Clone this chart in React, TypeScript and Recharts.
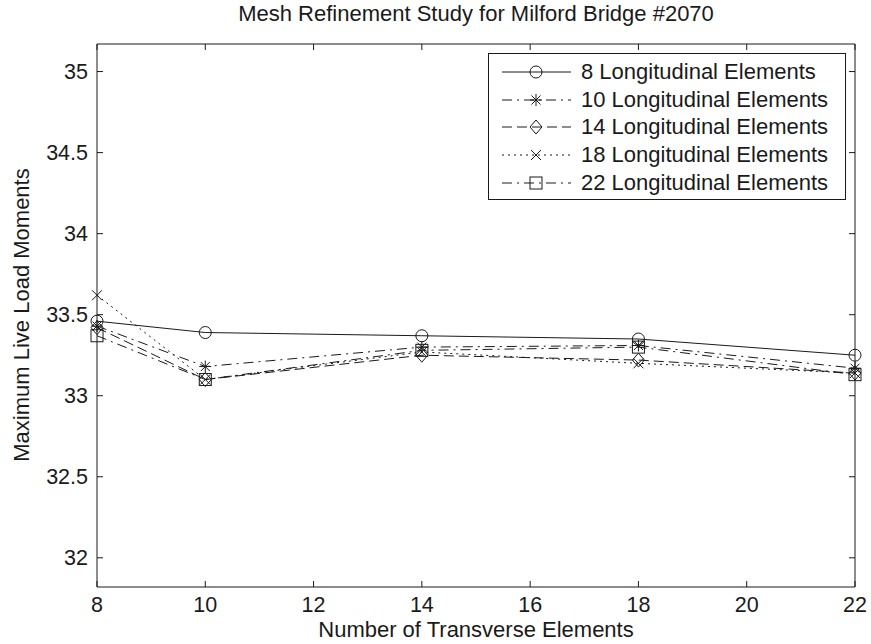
import { LineChart, Line, XAxis, YAxis } from 'recharts'

const transverse = [8, 10, 14, 18, 22]
const long8 = [33.46, 33.39, 33.37, 33.35, 33.25]
const long10 = [33.43, 33.18, 33.3, 33.31, 33.17]
const long14 = [33.42, 33.1, 33.25, 33.22, 33.14]
const long18 = [33.62, 33.1, 33.27, 33.2, 33.14]
const long22 = [33.37, 33.1, 33.28, 33.3, 33.13]

const xTicks = [8, 10, 12, 14, 16, 18, 20, 22]
const yTicks = [32, 32.5, 33, 33.5, 34, 34.5, 35]

const INK = '#1a1a1a'
const FONT = '"Liberation Sans", Arial, sans-serif'

const series = [
  { key: 'l8', name: '8 Longitudinal Elements', dash: undefined, shape: 'circle' },
  { key: 'l10', name: '10 Longitudinal Elements', dash: '10 5 2 5', shape: 'star' },
  { key: 'l14', name: '14 Longitudinal Elements', dash: '10 5', shape: 'diamond' },
  { key: 'l18', name: '18 Longitudinal Elements', dash: '2 4', shape: 'cross' },
  { key: 'l22', name: '22 Longitudinal Elements', dash: '10 5 2 5', shape: 'square' },
]

const data = transverse.map((t, i) => ({
  t,
  l8: long8[i],
  l10: long10[i],
  l14: long14[i],
  l18: long18[i],
  l22: long22[i],
}))

function Marker({ shape, cx, cy }: { shape: string; cx: number; cy: number }) {
  const s = { fill: 'none', stroke: INK, strokeWidth: 1 }
  if (shape === 'circle') return <circle cx={cx} cy={cy} r={6} {...s} />
  if (shape === 'square') return <rect x={cx - 6} y={cy - 6} width={12} height={12} {...s} />
  if (shape === 'diamond')
    return <polygon points={`${cx},${cy - 7} ${cx + 6},${cy} ${cx},${cy + 7} ${cx - 6},${cy}`} {...s} />
  if (shape === 'cross')
    return (
      <g {...s}>
        <line x1={cx - 5} y1={cy - 5} x2={cx + 5} y2={cy + 5} />
        <line x1={cx - 5} y1={cy + 5} x2={cx + 5} y2={cy - 5} />
      </g>
    )
  // asterisk
  return (
    <g {...s}>
      <line x1={cx - 6} y1={cy} x2={cx + 6} y2={cy} />
      <line x1={cx} y1={cy - 6} x2={cx} y2={cy + 6} />
      <line x1={cx - 4.5} y1={cy - 4.5} x2={cx + 4.5} y2={cy + 4.5} />
      <line x1={cx - 4.5} y1={cy + 4.5} x2={cx + 4.5} y2={cy - 4.5} />
    </g>
  )
}

function LegendBox() {
  return (
    <div
      style={{
        position: 'absolute',
        left: 488,
        top: 53,
        border: `1px solid ${INK}`,
        background: '#fff',
        padding: '4px 0',
        boxSizing: 'border-box',
        width: 358,
        height: 147,
      }}
    >
      {series.map((s) => (
        <div key={s.key} style={{ display: 'flex', alignItems: 'center', height: 27.8 }}>
          <svg width={92} height={20} style={{ flex: 'none' }}>
            <line x1={13} y1={10} x2={82} y2={10} stroke={INK} strokeWidth={1} strokeDasharray={s.dash} />
            <Marker shape={s.shape} cx={47} cy={10} />
          </svg>
          <span style={{ fontSize: 22, color: INK, fontFamily: FONT, whiteSpace: 'nowrap' }}>{s.name}</span>
        </div>
      ))}
    </div>
  )
}

export default function App() {
  const tick = { fontSize: 21.5, fill: INK, fontFamily: FONT }
  return (
    <div style={{ position: 'relative', width: 871, height: 644, background: '#fff', fontFamily: FONT }}>
      <style>{'body{margin:0}'}</style>
      <LineChart
        width={871}
        height={644}
        data={data}
        margin={{ top: 43, right: 15, left: 0, bottom: 0 }}
        style={{ position: 'absolute', top: 0, left: 0 }}
      >
        <XAxis
          dataKey="t"
          type="number"
          domain={[8, 22]}
          ticks={xTicks}
          height={57}
          tick={tick}
          tickSize={-6}
          tickMargin={16}
          stroke={INK}
          interval={0}
        />
        <XAxis
          xAxisId="top"
          dataKey="t"
          type="number"
          orientation="top"
          domain={[8, 22]}
          ticks={xTicks}
          height={1}
          tickSize={-6}
          tickFormatter={() => ''}
          stroke={INK}
          interval={0}
        />
        <YAxis
          type="number"
          domain={[31.82, 35.17]}
          ticks={yTicks}
          width={97}
          tick={tick}
          tickSize={-6}
          tickMargin={15}
          stroke={INK}
          interval={0}
          allowDataOverflow
        />
        <YAxis
          yAxisId="right"
          type="number"
          orientation="right"
          domain={[31.82, 35.17]}
          ticks={yTicks}
          width={1}
          tickSize={-6}
          tickFormatter={() => ''}
          stroke={INK}
          interval={0}
          allowDataOverflow
        />
        {series.map((s, i) => (
          <Line
            key={s.key}
            dataKey={s.key}
            name={s.name}
            xAxisId={i === series.length - 1 ? 'top' : 0}
            yAxisId={i === series.length - 1 ? 'right' : 0}
            stroke={INK}
            strokeWidth={1}
            strokeDasharray={s.dash}
            isAnimationActive={false}
            dot={(p: any) => <Marker key={`${s.key}-${p.index}`} shape={s.shape} cx={p.cx} cy={p.cy} />}
            activeDot={false}
          />
        ))}
      </LineChart>
      <LegendBox />
      <div
        style={{
          position: 'absolute',
          top: 0,
          left: 97,
          width: 758,
          textAlign: 'center',
          fontSize: 22,
          lineHeight: '28px',
          color: INK,
        }}
      >
        Mesh Refinement Study for Milford Bridge #2070
      </div>
      <div
        style={{
          position: 'absolute',
          top: 617,
          left: 97,
          width: 758,
          textAlign: 'center',
          fontSize: 22,
          lineHeight: '26px',
          color: INK,
        }}
      >
        Number of Transverse Elements
      </div>
      <div
        style={{
          position: 'absolute',
          left: 22,
          top: 315,
          transform: 'translate(-50%, -50%) rotate(-90deg)',
          fontSize: 22,
          lineHeight: '26px',
          whiteSpace: 'nowrap',
          color: INK,
        }}
      >
        Maximum Live Load Moments
      </div>
    </div>
  )
}
